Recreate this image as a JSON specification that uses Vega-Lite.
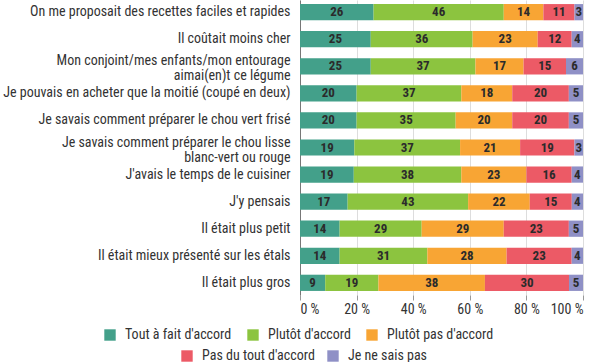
{
  "$schema": "https://vega.github.io/schema/vega-lite/v6.json",
  "width": 283,
  "height": 295,
  "autosize": "none",
  "padding": {"left": 300, "top": 0, "right": 17, "bottom": 67},
  "background": "white",
  "config": {
    "font": "Liberation Sans Narrow, Roboto Condensed, Roboto",
    "view": {"stroke": null}
  },
  "data": {
    "values": [
      {"q": "On me proposait des recettes faciles et rapides", "cat": "Tout à fait d'accord", "ordre": 1, "v": 26},
      {"q": "On me proposait des recettes faciles et rapides", "cat": "Plutôt d'accord", "ordre": 2, "v": 46},
      {"q": "On me proposait des recettes faciles et rapides", "cat": "Plutôt pas d'accord", "ordre": 3, "v": 14},
      {"q": "On me proposait des recettes faciles et rapides", "cat": "Pas du tout d'accord", "ordre": 4, "v": 11},
      {"q": "On me proposait des recettes faciles et rapides", "cat": "Je ne sais pas", "ordre": 5, "v": 3},
      {"q": "Il coûtait moins cher", "cat": "Tout à fait d'accord", "ordre": 1, "v": 25},
      {"q": "Il coûtait moins cher", "cat": "Plutôt d'accord", "ordre": 2, "v": 36},
      {"q": "Il coûtait moins cher", "cat": "Plutôt pas d'accord", "ordre": 3, "v": 23},
      {"q": "Il coûtait moins cher", "cat": "Pas du tout d'accord", "ordre": 4, "v": 12},
      {"q": "Il coûtait moins cher", "cat": "Je ne sais pas", "ordre": 5, "v": 4},
      {"q": "Mon conjoint/mes enfants/mon entourage aimai(en)t ce légume", "cat": "Tout à fait d'accord", "ordre": 1, "v": 25},
      {"q": "Mon conjoint/mes enfants/mon entourage aimai(en)t ce légume", "cat": "Plutôt d'accord", "ordre": 2, "v": 37},
      {"q": "Mon conjoint/mes enfants/mon entourage aimai(en)t ce légume", "cat": "Plutôt pas d'accord", "ordre": 3, "v": 17},
      {"q": "Mon conjoint/mes enfants/mon entourage aimai(en)t ce légume", "cat": "Pas du tout d'accord", "ordre": 4, "v": 15},
      {"q": "Mon conjoint/mes enfants/mon entourage aimai(en)t ce légume", "cat": "Je ne sais pas", "ordre": 5, "v": 6},
      {"q": "Je pouvais en acheter que la moitié (coupé en deux)", "cat": "Tout à fait d'accord", "ordre": 1, "v": 20},
      {"q": "Je pouvais en acheter que la moitié (coupé en deux)", "cat": "Plutôt d'accord", "ordre": 2, "v": 37},
      {"q": "Je pouvais en acheter que la moitié (coupé en deux)", "cat": "Plutôt pas d'accord", "ordre": 3, "v": 18},
      {"q": "Je pouvais en acheter que la moitié (coupé en deux)", "cat": "Pas du tout d'accord", "ordre": 4, "v": 20},
      {"q": "Je pouvais en acheter que la moitié (coupé en deux)", "cat": "Je ne sais pas", "ordre": 5, "v": 5},
      {"q": "Je savais comment préparer le chou vert frisé", "cat": "Tout à fait d'accord", "ordre": 1, "v": 20},
      {"q": "Je savais comment préparer le chou vert frisé", "cat": "Plutôt d'accord", "ordre": 2, "v": 35},
      {"q": "Je savais comment préparer le chou vert frisé", "cat": "Plutôt pas d'accord", "ordre": 3, "v": 20},
      {"q": "Je savais comment préparer le chou vert frisé", "cat": "Pas du tout d'accord", "ordre": 4, "v": 20},
      {"q": "Je savais comment préparer le chou vert frisé", "cat": "Je ne sais pas", "ordre": 5, "v": 5},
      {"q": "Je savais comment préparer le chou lisse blanc-vert ou rouge", "cat": "Tout à fait d'accord", "ordre": 1, "v": 19},
      {"q": "Je savais comment préparer le chou lisse blanc-vert ou rouge", "cat": "Plutôt d'accord", "ordre": 2, "v": 37},
      {"q": "Je savais comment préparer le chou lisse blanc-vert ou rouge", "cat": "Plutôt pas d'accord", "ordre": 3, "v": 21},
      {"q": "Je savais comment préparer le chou lisse blanc-vert ou rouge", "cat": "Pas du tout d'accord", "ordre": 4, "v": 19},
      {"q": "Je savais comment préparer le chou lisse blanc-vert ou rouge", "cat": "Je ne sais pas", "ordre": 5, "v": 3},
      {"q": "J'avais le temps de le cuisiner", "cat": "Tout à fait d'accord", "ordre": 1, "v": 19},
      {"q": "J'avais le temps de le cuisiner", "cat": "Plutôt d'accord", "ordre": 2, "v": 38},
      {"q": "J'avais le temps de le cuisiner", "cat": "Plutôt pas d'accord", "ordre": 3, "v": 23},
      {"q": "J'avais le temps de le cuisiner", "cat": "Pas du tout d'accord", "ordre": 4, "v": 16},
      {"q": "J'avais le temps de le cuisiner", "cat": "Je ne sais pas", "ordre": 5, "v": 4},
      {"q": "J'y pensais", "cat": "Tout à fait d'accord", "ordre": 1, "v": 17},
      {"q": "J'y pensais", "cat": "Plutôt d'accord", "ordre": 2, "v": 43},
      {"q": "J'y pensais", "cat": "Plutôt pas d'accord", "ordre": 3, "v": 22},
      {"q": "J'y pensais", "cat": "Pas du tout d'accord", "ordre": 4, "v": 15},
      {"q": "J'y pensais", "cat": "Je ne sais pas", "ordre": 5, "v": 4},
      {"q": "Il était plus petit", "cat": "Tout à fait d'accord", "ordre": 1, "v": 14},
      {"q": "Il était plus petit", "cat": "Plutôt d'accord", "ordre": 2, "v": 29},
      {"q": "Il était plus petit", "cat": "Plutôt pas d'accord", "ordre": 3, "v": 29},
      {"q": "Il était plus petit", "cat": "Pas du tout d'accord", "ordre": 4, "v": 23},
      {"q": "Il était plus petit", "cat": "Je ne sais pas", "ordre": 5, "v": 5},
      {"q": "Il était mieux présenté sur les étals", "cat": "Tout à fait d'accord", "ordre": 1, "v": 14},
      {"q": "Il était mieux présenté sur les étals", "cat": "Plutôt d'accord", "ordre": 2, "v": 31},
      {"q": "Il était mieux présenté sur les étals", "cat": "Plutôt pas d'accord", "ordre": 3, "v": 28},
      {"q": "Il était mieux présenté sur les étals", "cat": "Pas du tout d'accord", "ordre": 4, "v": 23},
      {"q": "Il était mieux présenté sur les étals", "cat": "Je ne sais pas", "ordre": 5, "v": 4},
      {"q": "Il était plus gros", "cat": "Tout à fait d'accord", "ordre": 1, "v": 9},
      {"q": "Il était plus gros", "cat": "Plutôt d'accord", "ordre": 2, "v": 19},
      {"q": "Il était plus gros", "cat": "Plutôt pas d'accord", "ordre": 3, "v": 38},
      {"q": "Il était plus gros", "cat": "Pas du tout d'accord", "ordre": 4, "v": 30},
      {"q": "Il était plus gros", "cat": "Je ne sais pas", "ordre": 5, "v": 5}
    ]
  },
  "transform": [
    {"stack": "v", "groupby": ["q"], "sort": [{"field": "ordre", "order": "ascending"}], "offset": "normalize", "as": ["x0", "x1"]}
  ],
  "encoding": {
    "y": {
      "field": "q",
      "type": "nominal",
      "title": null,
      "sort": [
        "On me proposait des recettes faciles et rapides",
        "Il coûtait moins cher",
        "Mon conjoint/mes enfants/mon entourage aimai(en)t ce légume",
        "Je pouvais en acheter que la moitié (coupé en deux)",
        "Je savais comment préparer le chou vert frisé",
        "Je savais comment préparer le chou lisse blanc-vert ou rouge",
        "J'avais le temps de le cuisiner",
        "J'y pensais",
        "Il était plus petit",
        "Il était mieux présenté sur les étals",
        "Il était plus gros"
      ],
      "scale": {"paddingInner": 0.4, "paddingOuter": 0.15},
      "axis": {
        "domain": true,
        "domainColor": "#777777",
        "ticks": false,
        "labelPadding": 10,
        "labelFontSize": 14,
        "labelColor": "#333333",
        "labelLimit": 400,
        "labelLineHeight": 15,
        "labelOffset": {
          "condition": {"test": "length(datum.label) > 55", "value": -5},
          "value": 0
        },
        "labelExpr": "datum.label == 'Mon conjoint/mes enfants/mon entourage aimai(en)t ce légume' ? ['Mon conjoint/mes enfants/mon entourage', 'aimai(en)t ce légume'] : datum.label == 'Je savais comment préparer le chou lisse blanc-vert ou rouge' ? ['Je savais comment préparer le chou lisse', 'blanc-vert ou rouge'] : datum.label"
      }
    }
  },
  "layer": [
    {
      "transform": [{"filter": "datum.ordre <= 3"}],
      "mark": {"type": "bar"},
      "encoding": {
        "x": {
          "field": "x0",
          "type": "quantitative",
          "title": null,
          "scale": {"domain": [0, 1], "nice": false},
          "axis": {
            "values": [0, 0.2, 0.4, 0.6, 0.8, 1],
            "labelExpr": "format(datum.value * 100, 'd') + ' %'",
            "domain": false,
            "grid": true,
            "gridColor": "#dddddd",
            "tickColor": "#999999",
            "tickSize": 5,
            "labelFontSize": 14,
            "labelColor": "#333333",
            "labelPadding": 2
          }
        },
        "x2": {"field": "x1"},
        "color": {
          "field": "cat",
          "type": "nominal",
          "sort": ["Tout à fait d'accord", "Plutôt d'accord", "Plutôt pas d'accord"],
          "scale": {
            "domain": ["Tout à fait d'accord", "Plutôt d'accord", "Plutôt pas d'accord"],
            "range": ["#43a08a", "#8cc43f", "#f8a534"]
          },
          "legend": {
            "title": null,
            "orient": "none",
            "direction": "horizontal",
            "legendX": -197,
            "legendY": 328,
            "padding": 0,
            "symbolType": "square",
            "symbolSize": 130,
            "symbolStrokeWidth": 0,
            "labelFontSize": 14,
            "labelColor": "#333333",
            "labelOffset": 8,
            "columnPadding": 14,
            "labelLimit": 300
          }
        }
      }
    },
    {
      "transform": [{"filter": "datum.ordre > 3"}],
      "mark": {"type": "bar"},
      "encoding": {
        "x": {"field": "x0", "type": "quantitative", "title": null, "scale": {"domain": [0, 1], "nice": false}},
        "x2": {"field": "x1"},
        "fill": {
          "field": "cat",
          "type": "nominal",
          "sort": ["Pas du tout d'accord", "Je ne sais pas"],
          "scale": {
            "domain": ["Pas du tout d'accord", "Je ne sais pas"],
            "range": ["#ec5a66", "#8f90c6"]
          },
          "legend": {
            "title": null,
            "orient": "none",
            "direction": "horizontal",
            "legendX": -120,
            "legendY": 349,
            "padding": 0,
            "symbolType": "square",
            "symbolSize": 130,
            "symbolStrokeWidth": 0,
            "labelFontSize": 14,
            "labelColor": "#333333",
            "labelOffset": 8,
            "columnPadding": 11,
            "labelLimit": 300
          }
        }
      }
    },
    {
      "mark": {"type": "text", "fontSize": 13, "fontWeight": "bold", "color": "#2b2b2b"},
      "encoding": {
        "x": {"field": "v", "type": "quantitative", "stack": "normalize", "bandPosition": 0.5, "title": null, "scale": {"domain": [0, 1], "nice": false}},
        "detail": {"field": "cat"},
        "order": {"field": "ordre", "type": "quantitative"},
        "text": {"field": "v", "type": "quantitative"}
      }
    }
  ]
}
